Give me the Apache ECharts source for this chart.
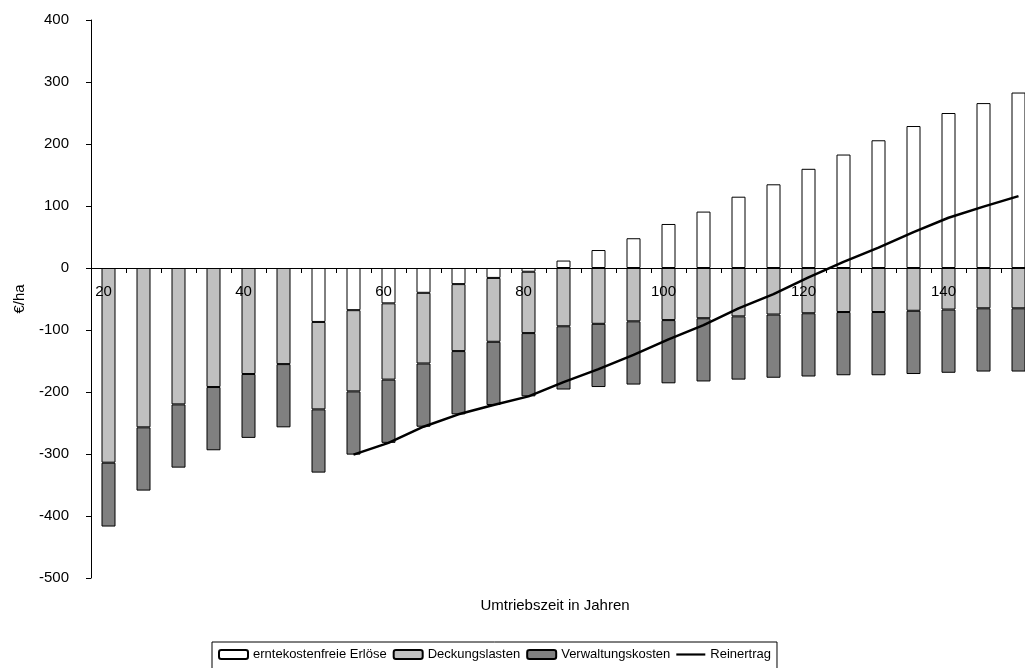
<!DOCTYPE html>
<html>
<head>
<meta charset="utf-8">
<script src="https://cdn.jsdelivr.net/npm/echarts@6/dist/echarts.min.js"></script>
<style>
  html, body { margin: 0; padding: 0; background: #fff; }
  #chart { width: 1025px; height: 668px; }
</style>
</head>
<body>
<div id="chart"></div>
<script>
// Umtriebszeit (rotation age) in years
const ages = [20, 25, 30, 35, 40, 45, 50, 55, 60, 65, 70, 75, 80, 85, 90, 95,
              100, 105, 110, 115, 120, 125, 130, 135, 140, 145, 150];

// erntekostenfreie Erlöse, €/ha
const erloese = [null, null, null, null, null, null, -87, -68, -57, -40, -26, -16, -6, 12, 29, 48,
                 71, 91, 115, 135, 160, 183, 206, 229, 250, 266, 283];

// Deckungslasten, €/ha
const deckungslasten = [-314, -257, -220, -192, -171, -155, -141, -131, -123, -114, -108, -103, -99, -94, -90, -86,
                        -84, -81, -78, -75, -73, -71, -71, -69, -67, -65, -65];

// Verwaltungskosten, €/ha
const verwaltungskosten = [-103, -102, -102, -102, -103, -102, -102, -102, -102, -102, -102, -102, -102, -102, -102, -102,
                           -102, -102, -102, -102, -102, -102, -102, -102, -102, -102, -102];

// Reinertrag, €/ha
const reinertrag = [null, null, null, null, null, null, null, -301, -282, -256, -236, -221, -207, -184, -163, -140,
                    -115, -92, -65, -42, -15, 10, 33, 58, 81, 99, 116];

const yTicks = { min: -500, max: 400, step: 100 };

const FONT = "'Liberation Sans', Arial, sans-serif";

// plot box in pixels; the last category runs slightly past the right edge
const GRID = { left: 91, width: 945, top: 20, bottom: 90 };
const PLOT_H = 668 - GRID.top - GRID.bottom;
// lift the category axis from the bottom edge up to the zero line
const zeroLift = PLOT_H * (0 - yTicks.min) / (yTicks.max - yTicks.min);

const chart = echarts.init(document.getElementById('chart'), null, { renderer: 'canvas' });

function barSeries(name, data, color) {
  return {
    name: name,
    type: 'bar',
    stack: 'total',
    data: data,
    barWidth: 14,
    itemStyle: { color: color, borderColor: '#000', borderWidth: 1 },
    emphasis: { disabled: true }
  };
}

chart.setOption({
  animation: false,
  backgroundColor: '#fff',
  textStyle: { fontFamily: FONT, color: '#000' },
  grid: Object.assign({ containLabel: false, outerBoundsMode: 'none' }, GRID),
  xAxis: {
    type: 'category',
    data: ages,
    boundaryGap: true,
    position: 'bottom',
    offset: -zeroLift,
    z: 10,
    axisLine: { onZero: false, lineStyle: { color: '#000', width: 1 } },
    axisTick: { show: true, interval: 0, length: 5, lineStyle: { color: '#000' } },
    axisLabel: {
      interval: 3,
      margin: 16,
      fontSize: 15,
      fontFamily: FONT,
      color: '#000',
      padding: [0, 10, 0, 0]
    },
    splitLine: { show: false }
  },
  yAxis: {
    type: 'value',
    min: yTicks.min,
    max: yTicks.max,
    interval: yTicks.step,
    name: '€/ha',
    nameLocation: 'middle',
    nameGap: 64,
    nameTextStyle: { fontSize: 15, fontFamily: FONT, color: '#000' },
    axisLine: { show: true, onZero: false, lineStyle: { color: '#000', width: 1 } },
    axisTick: { show: true, length: 5, lineStyle: { color: '#000' } },
    axisLabel: { margin: 22, fontSize: 15, fontFamily: FONT, color: '#000' },
    splitLine: { show: false }
  },
  legend: {
    left: 212,
    top: 642,
    orient: 'horizontal',
    backgroundColor: '#fff',
    borderColor: '#000',
    borderWidth: 1,
    padding: [6, 6, 8, 6],
    itemGap: 6,
    itemWidth: 29,
    itemHeight: 9,
    textStyle: { fontSize: 13, fontFamily: FONT, color: '#000' },
    data: [
      'erntekostenfreie Erlöse',
      'Deckungslasten',
      'Verwaltungskosten',
      { name: 'Reinertrag', icon: 'path://M0,0H40V3H0Z' }
    ]
  },
  graphic: [{
    type: 'text',
    x: 555,
    y: 606,
    style: {
      text: 'Umtriebszeit in Jahren',
      font: '15px ' + FONT,
      fill: '#000',
      align: 'center',
      verticalAlign: 'middle'
    }
  }],
  series: [
    barSeries('erntekostenfreie Erlöse', erloese, '#ffffff'),
    barSeries('Deckungslasten', deckungslasten, '#c0c0c0'),
    barSeries('Verwaltungskosten', verwaltungskosten, '#808080'),
    {
      name: 'Reinertrag',
      type: 'line',
      data: reinertrag,
      symbol: 'none',
      showSymbol: false,
      connectNulls: false,
      z: 5,
      lineStyle: { color: '#000', width: 2.5 },
      itemStyle: { color: '#000' },
      emphasis: { disabled: true }
    }
  ]
});
</script>
</body>
</html>
